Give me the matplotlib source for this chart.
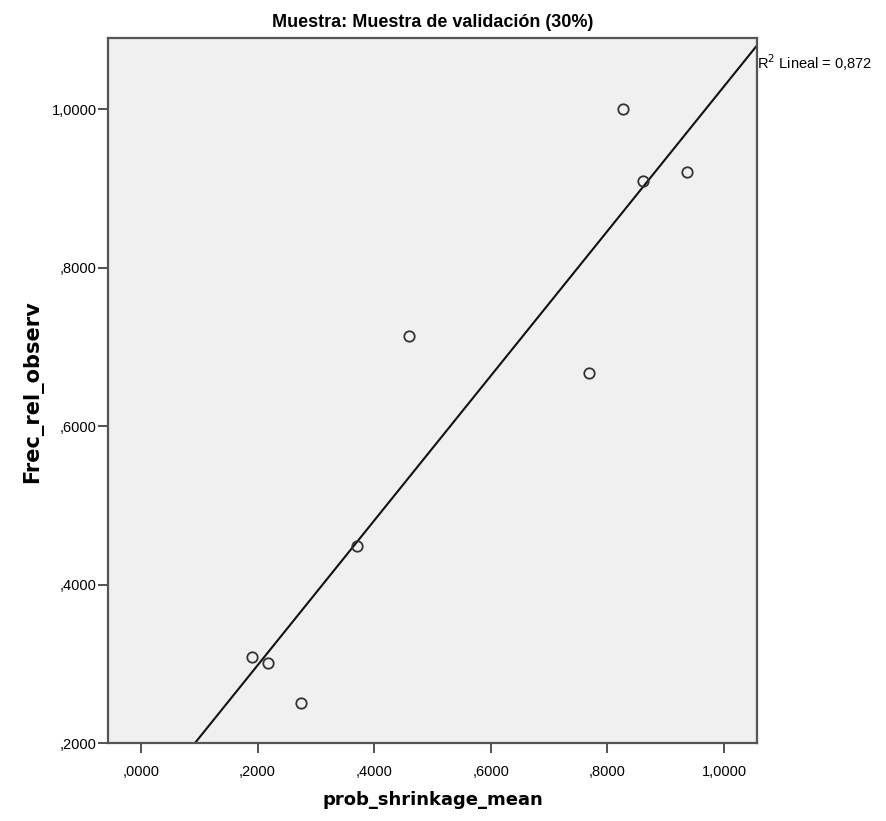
import numpy as np
import matplotlib
matplotlib.use("Agg")
import matplotlib.pyplot as plt
from matplotlib import font_manager as fm

prob_shrinkage_mean = [0.827, 0.861, 0.937, 0.460, 0.768, 0.370, 0.190, 0.218, 0.274]
frec_rel_observ = [1.000, 0.909, 0.920, 0.714, 0.667, 0.449, 0.308, 0.301, 0.250]
x_ticks = [0.0, 0.2, 0.4, 0.6, 0.8, 1.0]
x_tick_labels = [",0000", ",2000", ",4000", ",6000", ",8000", "1,0000"]
y_ticks = [0.2, 0.4, 0.6, 0.8, 1.0]
y_tick_labels = [",2000", ",4000", ",6000", ",8000", "1,0000"]
title = "Muestra: Muestra de validación (30%)"
r2_label = "R$^2$ Lineal = 0,872"

names = {f.name for f in fm.fontManager.ttflist}
narrow = "Liberation Sans Narrow" if "Liberation Sans Narrow" in names else "Liberation Sans"

fig = plt.figure(figsize=(8.86, 8.21), dpi=100)
ax = fig.add_axes([0.1219, 0.095, 0.7325, 0.8587])
ax.set_facecolor("#F0F0F0")

x = np.array(prob_shrinkage_mean)
y = np.array(frec_rel_observ)
ax.plot(x, y, linestyle="none", marker="o", markersize=7.5, markerfacecolor="none",
        markeredgecolor="#333333", markeredgewidth=1.3, zorder=3)

slope, intercept = np.polyfit(x, y, 1)
xlim = (-0.0566, 1.0566)
ylim = (0.2, 1.0896)
xl = np.array(xlim)
ax.plot(xl, slope * xl + intercept, color="#111111", lw=1.5, zorder=2)
ax.set_xlim(*xlim)
ax.set_ylim(*ylim)

ax.set_xticks(x_ticks)
ax.set_xticklabels(x_tick_labels, fontfamily=narrow, fontsize=10.5)
ax.set_yticks(y_ticks)
ax.set_yticklabels(y_tick_labels, fontfamily=narrow, fontsize=10.5)
ax.tick_params(axis="both", direction="out", length=7, width=1.3, color="#444444")
ax.tick_params(axis="x", pad=9)
ax.tick_params(axis="y", pad=1)
for s in ax.spines.values():
    s.set_color("#555555")
    s.set_linewidth(1.6)

ax.set_xlabel("prob_shrinkage_mean", fontsize=13, fontweight="bold", va="center")
ax.xaxis.set_label_coords(0.5, -0.081)
ax.set_ylabel("Frec_rel_observ", fontsize=15, fontweight="bold", va="center")
ax.yaxis.set_label_coords(-0.1156, 0.498)
ax.set_title(title, fontfamily=narrow, fontsize=13, fontweight="bold", pad=8)

ax.text(1.0, 0.965, r2_label, transform=ax.transAxes, ha="left", va="center",
        fontfamily=narrow, fontsize=10.5)

fig.savefig("out.png", dpi=100)
